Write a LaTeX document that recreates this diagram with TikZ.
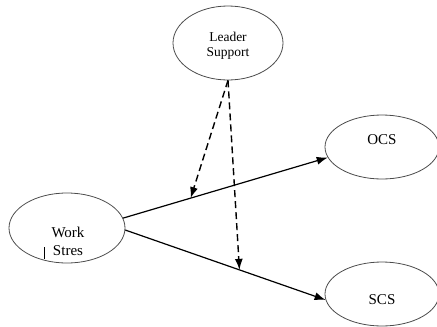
\documentclass[tikz,border=0pt]{standalone}
\usepackage{fontspec}
\setmainfont{Liberation Serif}
\usetikzlibrary{arrows.meta,shapes.geometric}

\begin{document}
\begin{tikzpicture}[x=1pt,y=-1pt,
    oval/.style={ellipse,draw=black!70,line width=0.8pt,inner sep=0pt,
        font=\fontsize{15}{18}\selectfont,align=center},
    arr/.style={line width=1.2pt,-{Latex[length=11pt,width=8pt]}},
    darr/.style={arr,line width=1.4pt,dash pattern=on 7pt off 4pt}
]
\useasboundingbox (0,0) rectangle (437,327);
\node[oval,minimum width=110pt,minimum height=74pt,
    font=\fontsize{13.5}{15}\selectfont,text height=30pt] (ls) at (228,43) {Leader\\Support};
\node[oval,minimum width=116pt,minimum height=70pt] (ws) at (67,228) {};
\node[font=\fontsize{15}{18}\selectfont,align=center] (wslab) at (68,241) {Work\\Stres};
\node[oval,minimum width=114pt,minimum height=64pt,text depth=14pt] (ocs) at (382,147) {OCS};
\node[oval,minimum width=114pt,minimum height=64pt,text height=22pt] (scs) at (382,294) {SCS};
% stray stroke
\draw[line width=0.8pt] ([shift={(-23,19)}]ws.center) -- ++(0,12);
\draw[arr] (ws.10) -- coordinate[pos=.33] (m1) (ocs.191);
\draw[arr] (ws.-2) -- coordinate[pos=.57] (m2) (scs.186);
\draw[darr] (ls.south) -- (m1);
\draw[darr] (ls.south) -- (m2);
\end{tikzpicture}
\end{document}
